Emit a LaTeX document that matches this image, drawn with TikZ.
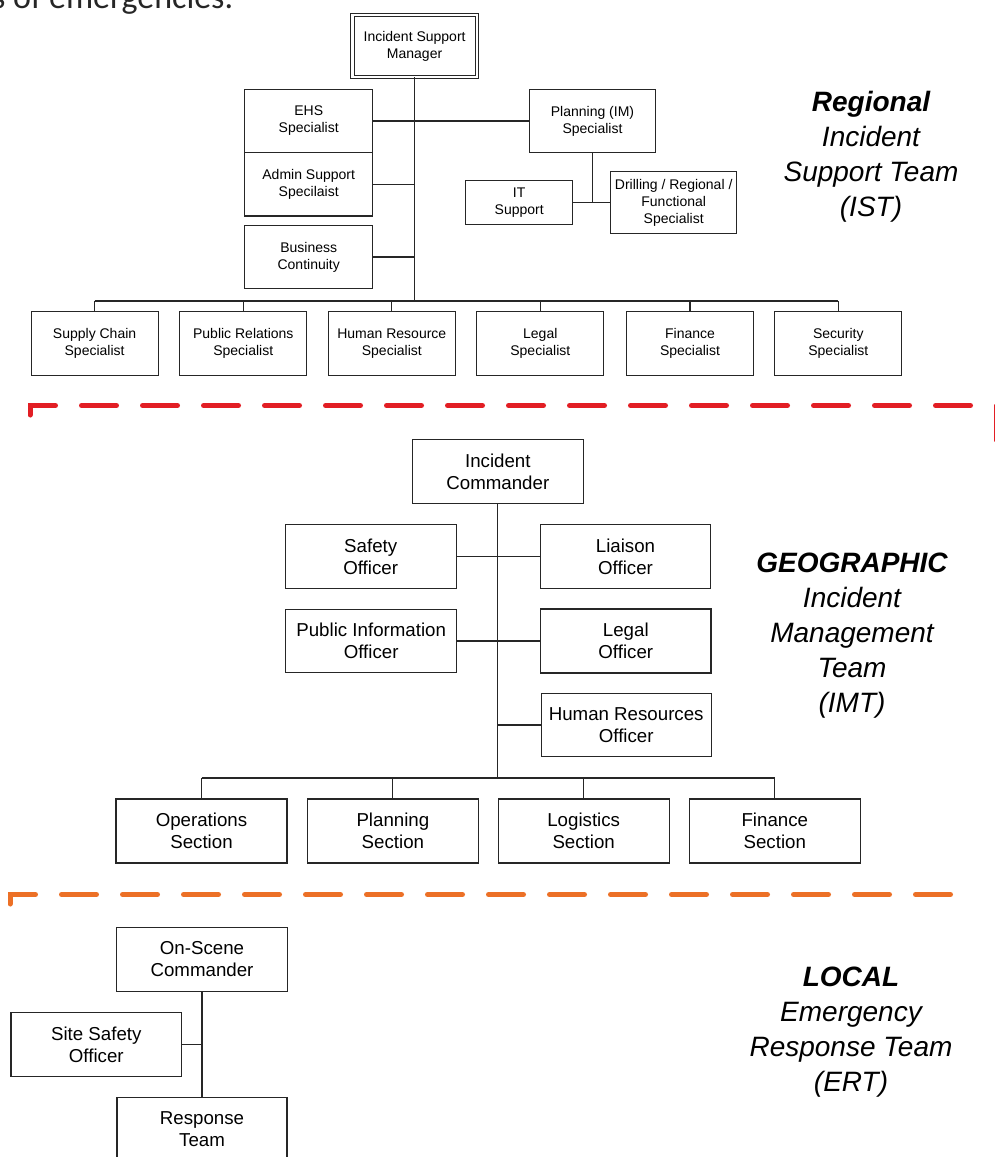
\documentclass[tikz,border=0pt]{standalone}
\usepackage{fontspec}
\setmainfont{Liberation Sans}
\newfontfamily\bodyfont{Carlito}
\definecolor{teamred}{RGB}{226,30,36}
\definecolor{teamorange}{RGB}{236,112,38}
\begin{document}
\begin{tikzpicture}[x=1pt,y=-1pt,
  box/.style={draw=black!85, line width=1.1pt, inner sep=0pt, outer sep=0pt, align=center, text=black},
  small/.style={box, font=\fontsize{14}{17}\selectfont},
  large/.style={box, font=\fontsize{18.7}{22}\selectfont},
  istrow/.style={small, minimum width=127, minimum height=64},
  imtbox/.style={large, minimum width=171, minimum height=64},
  link/.style={draw=black!85, line width=1.1pt},
  tier/.style={align=center, inner sep=0pt, font=\fontsize{28}{35}\selectfont\itshape},
  divider/.style={line width=5pt, line cap=round, dash pattern=on 35pt off 26pt}
]
\clip (0,0) rectangle (995,1157);
\fill[white] (0,0) rectangle (995,1157);

% running text above the chart
\node[anchor=base west, inner sep=0pt, font=\bodyfont\fontsize{34}{40}\selectfont, text=black!85] (lead) at (-8,8) {s of emergencies.};

% ---------------- Regional Incident Support Team ----------------
\node[small, double, double distance=2.4pt, line width=0.9pt, minimum width=124.4, minimum height=62] (ism) at (414.6,46) {Incident Support\\Manager};
\node[small, minimum width=128, minimum height=63.3] (ehs) at (308.7,121) {EHS\\Specialist};
\node[small, minimum width=128, minimum height=63.3] (admin) at (308.7,184.3) {Admin Support\\Specilaist};
\node[small, minimum width=128, minimum height=62.6] (bcont) at (308.7,257) {Business\\Continuity};
\node[small, minimum width=126.4, minimum height=62.4] (plan) at (592.5,121) {Planning (IM)\\Specialist};
\node[small, minimum width=107, minimum height=43.3] (it) at (519.2,202.5) {IT\\Support};
\node[small, minimum width=126, minimum height=62] (drill) at (673.7,202.5) {Drilling / Regional /\\Functional\\Specialist};

\node[istrow] (supply) at (94.6,343.5) {Supply Chain\\Specialist};
\node[istrow] (pr) at (243.3,343.5) {Public Relations\\Specialist};
\node[istrow] (hr) at (391.8,343.5) {Human Resource\\Specialist};
\node[istrow] (legal) at (540.3,343.5) {Legal\\Specialist};
\node[istrow] (finance) at (690,343.5) {Finance\\Specialist};
\node[istrow] (security) at (838.3,343.5) {Security\\Specialist};

\coordinate (istbus) at (414.6,301);
\draw[link] (ism.south) -- (istbus);
\draw[link] (ehs.east) -- (plan.west);
\draw[link] (admin.east) -- (admin.east -| ism.south);
\draw[link] (bcont.east) -- (bcont.east -| ism.south);
\draw[link] (plan.south) -- (plan.south |- it.east);
\draw[link] (it.east) -- (drill.west);
\draw[link] (supply.north |- istbus) -- (security.north |- istbus);
\foreach \n in {supply,pr,hr,legal,finance,security}
  \draw[link] (\n.north) -- (\n.north |- istbus);

\node[tier] (istlabel) at (871,157) {{\bfseries Regional}\\Incident\\Support Team\\(IST)};

\draw[divider, teamred] (30,415) -- (30,405.5) -- (996,405.5) -- (996,440);

% ---------------- Geographic Incident Management Team ----------------
\node[large, minimum width=171, minimum height=64.7] (ic) at (497.8,471.4) {Incident\\Commander};
\node[large, minimum width=170.7, minimum height=63.3] (safety) at (370.7,556.5) {Safety\\Officer};
\node[large, minimum width=170.4, minimum height=63.3] (liaison) at (625.5,556.5) {Liaison\\Officer};
\node[large, minimum width=171, minimum height=63.3] (pio) at (371.2,641) {Public Information\\Officer};
\node[large, minimum width=170.3, minimum height=64] (legalo) at (625.8,641) {Legal\\Officer};
\node[large, minimum width=170.3, minimum height=63.4] (hro) at (626.2,725) {Human Resources\\Officer};

\node[imtbox] (ops) at (201.5,831) {Operations\\Section};
\node[imtbox] (plans) at (392.9,831) {Planning\\Section};
\node[imtbox] (logs) at (583.7,831) {Logistics\\Section};
\node[imtbox] (fins) at (774.8,831) {Finance\\Section};

\coordinate (imtbus) at (497.8,778);
\draw[link] (ic.south) -- (imtbus);
\draw[link] (safety.east) -- (liaison.west);
\draw[link] (pio.east) -- (legalo.west);
\draw[link] (hro.west) -- (hro.west -| ic.south);
\draw[link] (ops.north |- imtbus) -- (fins.north |- imtbus);
\foreach \n in {ops,plans,logs,fins}
  \draw[link] (\n.north) -- (\n.north |- imtbus);

\node[tier] (imtlabel) at (852,636) {{\bfseries GEOGRAPHIC}\\Incident\\Management\\Team\\(IMT)};

\draw[divider, teamorange] (10,904) -- (10,894.5) -- (958,894.5);

% ---------------- Local Emergency Response Team ----------------
\node[imtbox, minimum width=170.6] (osc) at (202,959.2) {On-Scene\\Commander};
\node[imtbox, minimum width=170.7] (sso) at (96.3,1044.5) {Site Safety\\Officer};
\node[imtbox, minimum width=170] (rt) at (202,1129.3) {Response\\Team};

\draw[link] (osc.south) -- (rt.north);
\draw[link] (sso.east) -- (sso.east -| osc.south);

\node[tier] (ertlabel) at (851,1032) {{\bfseries LOCAL}\\Emergency\\Response Team\\(ERT)};
\end{tikzpicture}
\end{document}
